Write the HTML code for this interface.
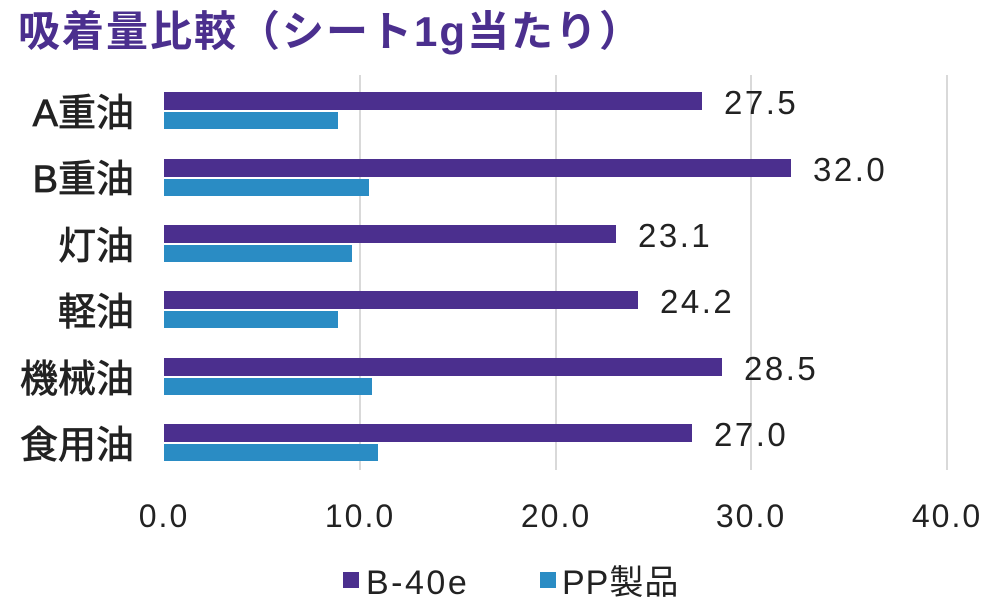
<!DOCTYPE html>
<html><head><meta charset="utf-8"><style>
body{margin:0;background:#fff;}
svg text{font-family:"Liberation Sans","Noto Sans CJK JP",sans-serif;}
</style></head><body>
<svg width="1000" height="609" viewBox="0 0 1000 609" xmlns="http://www.w3.org/2000/svg">
<rect width="1000" height="609" fill="#fff"/>
<text x="18" y="46" font-size="42" font-weight="bold" fill="#4b2f8e" letter-spacing="2">吸着量比較（シート1g当たり）</text>
<g stroke="#d9d9d9" stroke-width="2">
<line x1="360" y1="75" x2="360" y2="470"/>
<line x1="556" y1="75" x2="556" y2="470"/>
<line x1="751" y1="75" x2="751" y2="470"/>
<line x1="947" y1="75" x2="947" y2="470"/>
</g>
<g fill="#4b2f8e">
<rect x="164" y="92" width="538" height="18"/>
<rect x="164" y="159" width="627" height="18"/>
<rect x="164" y="225" width="452" height="18"/>
<rect x="164" y="291" width="474" height="18"/>
<rect x="164" y="358" width="558" height="18"/>
<rect x="164" y="424" width="528" height="18"/>
</g>
<g fill="#2a8cc4">
<rect x="164" y="112" width="174" height="17"/>
<rect x="164" y="179" width="205" height="17"/>
<rect x="164" y="245" width="188" height="17"/>
<rect x="164" y="311" width="174" height="17"/>
<rect x="164" y="378" width="208" height="17"/>
<rect x="164" y="444" width="214" height="17"/>
</g>
<g font-size="33" fill="#222" letter-spacing="2.5">
<text x="724" y="114">27.5</text>
<text x="813" y="181">32.0</text>
<text x="638" y="247">23.1</text>
<text x="660" y="313">24.2</text>
<text x="744" y="380">28.5</text>
<text x="714" y="446">27.0</text>
</g>
<g font-size="38" fill="#222" stroke="#222" stroke-width="0.8" text-anchor="end">
<text x="134" y="126">A重油</text>
<text x="134" y="192">B重油</text>
<text x="134" y="259">灯油</text>
<text x="134" y="325">軽油</text>
<text x="134" y="392">機械油</text>
<text x="134" y="458">食用油</text>
</g>
<g font-size="32" fill="#222" text-anchor="middle" letter-spacing="2">
<text x="164" y="527">0.0</text>
<text x="360" y="527">10.0</text>
<text x="556" y="527">20.0</text>
<text x="751" y="527">30.0</text>
<text x="947" y="527">40.0</text>
</g>
<rect x="343" y="572" width="16" height="16" fill="#4b2f8e"/>
<text x="366" y="594" font-size="34" fill="#222" letter-spacing="2.5">B-40e</text>
<rect x="540" y="572" width="16" height="16" fill="#2a8cc4"/>
<text x="562" y="594" font-size="34" fill="#222" letter-spacing="1">PP製品</text>
</svg>
</body></html>
